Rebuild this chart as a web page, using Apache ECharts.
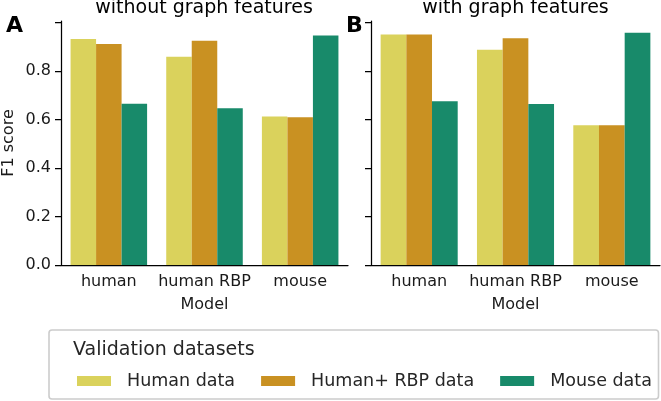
<!DOCTYPE html>
<html>
<head>
<meta charset="utf-8">
<script src="https://cdn.jsdelivr.net/npm/echarts@6/dist/echarts.min.js"></script>
<style>
html,body{margin:0;padding:0;background:#fff;}
#chart{width:661px;height:401px;}
</style>
</head>
<body>
<div id="chart"></div>
<script>
// ---- data ----
const models = ['human', 'human RBP', 'mouse'];
const seriesNames = ['Human data', 'Human+ RBP data', 'Mouse data'];
const panelTitles = ['without graph features', 'with graph features'];
const panelLetters = ['A', 'B'];
// panel A: without graph features
const withoutHuman = [0.932, 0.859, 0.612];
const withoutHumanRBP = [0.911, 0.925, 0.609];
const withoutMouse = [0.665, 0.646, 0.946];
// panel B: with graph features
const withHuman = [0.950, 0.887, 0.576];
const withHumanRBP = [0.950, 0.935, 0.576];
const withMouse = [0.675, 0.664, 0.958];
const yTickValues = [0, 0.2, 0.4, 0.6, 0.8, 1.0];
const yLabelValues = [0, 0.2, 0.4, 0.6, 0.8];
const colors = ['#DAD25C', '#C99122', '#188A6A'];

const FONT = 'DejaVu Sans';
const TXT = '#1a1a1a';
const panelData = [
  [withoutHuman, withoutHumanRBP, withoutMouse],
  [withHuman, withHumanRBP, withMouse]
];

const grids = [
  {left: 60, top: 21, width: 288, height: 244},
  {left: 371, top: 21, width: 289, height: 244}
];

const xAxes = grids.map((g, i) => ({
  type: 'category', gridIndex: i, data: models,
  name: 'Model', nameLocation: 'middle', nameGap: 32,
  nameTextStyle: {fontFamily: FONT, fontSize: 16, color: TXT},
  axisLine: {lineStyle: {color: '#000', width: 1.25}},
  axisTick: {alignWithLabel: true, length: 6, lineStyle: {color: '#000', width: 1.25}},
  axisLabel: {interval: 0, hideOverlap: false, fontFamily: FONT, fontSize: 16, color: TXT, margin: 9},
  splitLine: {show: false}
}));

const yAxes = grids.map((g, i) => ({
  type: 'value', gridIndex: i, min: 0, max: 1.006,
  name: i === 0 ? 'F1 score' : '', nameLocation: 'middle', nameGap: 44, nameRotate: 90,
  nameTextStyle: {fontFamily: FONT, fontSize: 16, color: TXT},
  axisLine: {show: true, lineStyle: {color: '#000', width: 1.25}},
  axisTick: {show: true, length: 6, customValues: yTickValues, lineStyle: {color: '#000', width: 1.25}},
  axisLabel: {show: i === 0, customValues: yLabelValues, fontFamily: FONT, fontSize: 16, color: TXT, margin: 10,
    formatter: v => v.toFixed(1)},
  splitLine: {show: false}
}));

const series = [];
panelData.forEach((arrs, p) => {
  arrs.forEach((arr, k) => {
    series.push({
      type: 'bar', name: seriesNames[k], xAxisIndex: p, yAxisIndex: p,
      data: arr, barGap: '0%', barCategoryGap: '20%',
      itemStyle: {color: colors[k]}, emphasis: {disabled: true}
    });
  });
});

const graphics = [];
panelTitles.forEach((t, i) => {
  const g = grids[i];
  graphics.push({type: 'text', x: g.left + g.width / 2, y: 8,
    style: {text: t, fontFamily: FONT, fontSize: 19, fill: '#000', align: 'center', verticalAlign: 'middle'}});
});
graphics.push({type: 'text', x: 6, y: 26, style: {text: panelLetters[0], fontFamily: FONT, fontSize: 22, fontWeight: 'bold', fill: '#000', align: 'left', verticalAlign: 'middle'}});
graphics.push({type: 'text', x: 346, y: 26, style: {text: panelLetters[1], fontFamily: FONT, fontSize: 22, fontWeight: 'bold', fill: '#000', align: 'left', verticalAlign: 'middle'}});
// legend frame and title
graphics.push({type: 'rect', shape: {x: 49, y: 330, width: 609.5, height: 69, r: 3},
  style: {fill: '#fff', stroke: '#cccccc', lineWidth: 1.6}, z: -1});
graphics.push({type: 'text', x: 73, y: 350, style: {text: 'Validation datasets', fontFamily: FONT, fontSize: 19, fill: '#262626', align: 'left', verticalAlign: 'middle'}});

const chart = echarts.init(document.getElementById('chart'), null, {renderer: 'canvas'});
chart.setOption({
  animation: false,
  backgroundColor: '#fff',
  grid: grids,
  xAxis: xAxes,
  yAxis: yAxes,
  legend: {
    data: seriesNames, left: 77, top: 372, padding: 0, itemGap: 26,
    itemWidth: 34, itemHeight: 10, icon: 'rect',
    textStyle: {fontFamily: FONT, fontSize: 17.5, color: '#262626', padding: [0, 0, 0, 11], lineHeight: 18},
    selectedMode: false
  },
  graphic: graphics,
  series: series
});
</script>
</body>
</html>
